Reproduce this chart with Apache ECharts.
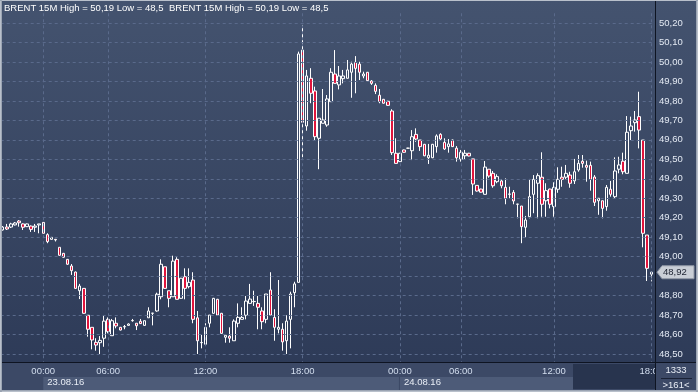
<!DOCTYPE html>
<html><head><meta charset="utf-8">
<script src="https://cdn.jsdelivr.net/npm/echarts@6/dist/echarts.min.js"></script>
<style>html,body{margin:0;padding:0;background:#2f3c5a;}#c{width:698px;height:392px;}</style>
</head><body><div id="c"></div>
<script>
const titleText = 'BRENT 15M High = 50,19 Low = 48,5';
const tickIndex = [10, 26, 50, 74, 98, 113, 136, 160];
const tickLabels = ['00:00', '06:00', '12:00', '18:00', '00:00', '06:00', '12:00', '18:00'];
const dateIndex = [10, 98];
const dateLabels = ['23.08.16', '24.08.16'];
const yTicks = [48.5, 48.6, 48.7, 48.8, 48.9, 49.0, 49.1, 49.2, 49.3, 49.4, 49.5, 49.6, 49.7, 49.8, 49.9, 50.0, 50.1, 50.2];
const lastPrice = 48.92;
const barsTotal = '1333';
const barsVisible = '>161<';

const opens = [
49.137,49.152,49.152,49.163,49.183,49.168,49.154,49.157,49.151,49.163,
49.176,49.113,49.089,49.089,49.048,49.017,48.986,48.952,48.921,48.825,
48.837,48.699,48.637,48.560,48.558,48.581,48.678,48.594,48.658,48.637,
48.639,48.647,48.671,48.658,48.668,48.647,48.686,48.709,48.721,48.794,
48.948,48.825,48.794,48.986,48.786,48.897,48.846,48.880,48.686,48.558,
48.550,48.658,48.709,48.781,48.709,48.586,48.592,48.568,48.658,48.678,
48.699,48.760,48.769,48.760,48.721,48.678,48.829,48.688,48.627,48.627,
48.568,48.678,48.815,48.868,50.061,49.671,49.916,49.851,49.608,49.685,
49.676,49.796,49.938,49.882,49.914,49.916,49.947,49.998,49.989,49.928,
49.947,49.902,49.880,49.829,49.808,49.798,49.748,49.531,49.488,49.548,
49.557,49.544,49.628,49.599,49.577,49.508,49.508,49.565,49.628,49.587,
49.565,49.599,49.557,49.500,49.518,49.531,49.502,49.366,49.347,49.320,
49.449,49.428,49.385,49.389,49.356,49.322,49.330,49.269,49.260,49.151,
49.205,49.320,49.377,49.408,49.287,49.347,49.257,49.346,49.408,49.408,
49.419,49.389,49.445,49.490,49.469,49.469,49.409,49.287,49.287,49.257,
49.346,49.308,49.449,49.490,49.428,49.647,49.688,49.719,49.599,49.111,
48.910];
const closes = [
49.152,49.142,49.168,49.173,49.174,49.151,49.168,49.140,49.157,49.168,
49.120,49.077,49.099,49.086,49.007,48.997,48.961,48.928,48.837,48.849,
48.709,48.627,48.572,48.546,48.570,48.669,48.615,48.671,48.644,48.623,
48.641,48.654,48.672,48.645,48.656,48.671,48.721,48.710,48.807,48.961,
48.837,48.786,48.977,48.781,48.889,48.837,48.868,48.678,48.568,48.559,
48.637,48.700,48.786,48.700,48.606,48.596,48.581,48.669,48.688,48.688,
48.772,48.782,48.770,48.740,48.666,48.808,48.700,48.637,48.637,48.562,
48.669,48.808,48.860,50.041,49.690,49.928,49.839,49.616,49.711,49.702,
49.810,49.947,49.890,49.928,49.928,49.959,49.989,49.967,49.947,49.938,
49.904,49.890,49.849,49.796,49.788,49.777,49.534,49.479,49.531,49.536,
49.557,49.616,49.604,49.565,49.518,49.521,49.577,49.620,49.604,49.553,
49.579,49.565,49.508,49.536,49.531,49.517,49.373,49.337,49.331,49.460,
49.414,49.364,49.411,49.364,49.300,49.320,49.286,49.270,49.154,49.188,
49.308,49.397,49.416,49.269,49.339,49.269,49.356,49.397,49.397,49.428,
49.377,49.436,49.479,49.479,49.459,49.397,49.279,49.300,49.248,49.356,
49.320,49.440,49.471,49.436,49.639,49.671,49.702,49.650,49.120,48.940,
48.920];
const lows = [
49.134,49.137,49.147,49.160,49.154,49.137,49.152,49.127,49.127,49.120,
49.120,49.069,49.088,49.078,49.005,48.995,48.958,48.906,48.835,48.782,
48.707,48.589,48.524,48.517,48.500,48.537,48.606,48.594,48.632,48.621,
48.627,48.646,48.666,48.623,48.654,48.645,48.686,48.647,48.717,48.781,
48.835,48.740,48.794,48.781,48.784,48.781,48.837,48.658,48.500,48.529,
48.550,48.637,48.707,48.698,48.604,48.558,48.558,48.568,48.637,48.678,
48.678,48.760,48.747,48.627,48.627,48.658,48.700,48.568,48.606,48.517,
48.500,48.529,48.740,48.868,49.510,49.647,49.788,49.596,49.449,49.685,
49.667,49.796,49.890,49.859,49.890,49.916,49.816,49.839,49.907,49.916,
49.902,49.882,49.835,49.788,49.786,49.775,49.522,49.479,49.486,49.534,
49.555,49.496,49.590,49.543,49.516,49.476,49.506,49.534,49.599,49.548,
49.534,49.563,49.488,49.488,49.500,49.515,49.317,49.334,49.329,49.320,
49.405,49.354,49.377,49.351,49.269,49.300,49.269,49.197,49.069,49.099,
49.197,49.223,49.197,49.205,49.205,49.248,49.205,49.328,49.359,49.397,
49.354,49.373,49.436,49.457,49.385,49.339,49.260,49.215,49.197,49.236,
49.308,49.298,49.428,49.423,49.428,49.599,49.642,49.556,49.048,48.875,
48.873];
const highs = [
49.157,49.168,49.174,49.178,49.188,49.171,49.170,49.160,49.168,49.168,
49.176,49.120,49.101,49.090,49.048,49.019,48.988,48.962,48.923,48.860,
48.839,48.699,48.637,48.581,48.592,48.699,48.688,48.680,48.688,48.639,
48.649,48.657,48.680,48.658,48.680,48.672,48.740,48.711,48.815,48.986,
48.948,48.825,49.005,48.997,48.891,48.940,48.940,48.920,48.721,48.598,
48.658,48.700,48.788,48.783,48.711,48.596,48.637,48.678,48.760,48.740,
48.798,48.860,48.825,48.798,48.740,48.808,48.920,48.730,48.880,48.658,
48.699,48.820,48.871,50.053,50.190,49.959,49.968,49.873,49.711,49.861,
49.830,49.968,50.061,49.979,49.959,50.010,50.001,50.030,50.001,49.950,
49.948,49.907,49.890,49.861,49.810,49.800,49.757,49.608,49.533,49.550,
49.559,49.650,49.659,49.599,49.579,49.579,49.579,49.628,49.634,49.608,
49.604,49.601,49.568,49.548,49.548,49.533,49.502,49.366,49.349,49.491,
49.449,49.440,49.423,49.397,49.402,49.359,49.342,49.271,49.260,49.209,
49.399,49.419,49.428,49.536,49.377,49.349,49.382,49.459,49.462,49.471,
49.436,49.502,49.522,49.522,49.493,49.488,49.419,49.300,49.287,49.368,
49.389,49.510,49.513,49.534,49.722,49.719,49.748,49.847,49.599,49.111,
48.925];

const FONT = 'Liberation Sans';
const categories = opens.map((_, i) => i);
const ohlc = opens.map((o, i) => [o, closes[i], lows[i], highs[i]]);
const fmt = v => v.toFixed(2).replace('.', ',');
const dash = { type: [3, 3], color: '#5a6a8b', width: 1 };

const chart = echarts.init(document.getElementById('c'), null, { renderer: 'canvas', width: 698, height: 392 });

const titleStyle = { color: '#ffffff', fontSize: 9.5, fontWeight: 'normal', fontFamily: FONT };
const option = {
  animation: false,
  backgroundColor: new echarts.graphic.LinearGradient(0, 0, 0, 1, [
    { offset: 0, color: '#44536f' }, { offset: 1, color: '#2c3956' }]),
  title: [
    { text: titleText, left: 4, top: 3, padding: 0, textStyle: titleStyle },
    { text: titleText, left: 169, top: 3, padding: 0, textStyle: titleStyle }
  ],
  grid: { left: 0.7, right: 44.7, top: 3.53, bottom: 18.53 },
  xAxis: [
    { type: 'category', data: categories, boundaryGap: true, z: 50,
      axisLine: { show: false }, axisTick: { show: false }, splitLine: { show: false },
      axisLabel: { interval: (i) => tickIndex.includes(i), margin: -7.5, fontSize: 9.5, fontFamily: FONT,
        formatter: (v, i) => { const k = tickIndex.indexOf(i); return k >= 0 ? tickLabels[k] : ''; },
        color: (v, i) => (i === tickIndex[tickIndex.length - 1] ? '#66738c' : '#d3deef') } },
    { type: 'category', data: categories, boundaryGap: true, position: 'bottom', z: 50,
      axisLine: { show: false }, axisTick: { show: false }, splitLine: { show: false },
      axisLabel: { interval: (i) => dateIndex.includes(i), margin: 4, fontSize: 9.5, fontFamily: FONT,
        align: 'left', padding: [0, 0, 0, 4], color: '#e9eef6',
        formatter: (v, i) => { const k = dateIndex.indexOf(i); return k >= 0 ? dateLabels[k] : ''; } } }
  ],
  yAxis: { type: 'value', position: 'right', min: 48.4, max: 50.3, interval: 0.1, offset: 1.7, scale: true,
    axisLine: { show: false }, axisTick: { show: false }, splitLine: { show: false },
    axisLabel: { showMinLabel: false, showMaxLabel: false, margin: 4, fontSize: 9.5, fontFamily: FONT, color: '#e3e9f3',
      formatter: v => (Math.abs(v - lastPrice) < 0.05 ? '' : fmt(v)) } },
  series: [
    { type: 'line', data: [], z: 1, silent: true,
      markLine: { silent: true, symbol: ['none', 'none'], label: { show: false }, lineStyle: dash, animation: false,
        data: [
          ...yTicks.map(v => ({ yAxis: v })),
          ...tickIndex.map(i => [{ coord: [i, 50.25] }, { coord: [i, 48.42] }])
        ] } },
    { type: 'candlestick', data: ohlc, z: 3, barWidth: 3,
      itemStyle: { color: 'rgba(0,0,0,0)', color0: '#e0143c', borderColor: '#ffffff', borderColor0: '#ffffff', borderWidth: 1 } }
  ]
};
chart.setOption(option);

function px(i) { return chart.convertToPixel({ xAxisIndex: 0 }, i); }
const py = chart.convertToPixel({ yAxisIndex: 0 }, lastPrice);
const xd1 = px(dateIndex[0]), xd2 = px(dateIndex[1]);
const g = [];
g.push({ type: 'rect', z: 10, shape: { x: 0, y: 363, width: 698, height: 29 }, style: { fill: '#3c4966' } });
g.push({ type: 'rect', z: 11, shape: { x: xd1, y: 377, width: xd2 - xd1, height: 13 }, style: { fill: '#4d5b78' } });
g.push({ type: 'rect', z: 11, shape: { x: xd2, y: 377, width: 573 - xd2, height: 13 }, style: { fill: '#4d5b78' } });
g.push({ type: 'line', z: 12, shape: { x1: xd2 - 0.5, y1: 377, x2: xd2 - 0.5, y2: 390 }, style: { stroke: '#3c4966', lineWidth: 1 } });
g.push({ type: 'rect', z: 12, shape: { x: 573, y: 364, width: 82, height: 25 }, style: { fill: '#28344e' } });
g.push({ type: 'line', z: 60, shape: { x1: 0, y1: 362.5, x2: 698, y2: 362.5 }, style: { stroke: '#0e1422', lineWidth: 1 } });
g.push({ type: 'rect', z: 60, shape: { x: 656, y: 363, width: 42, height: 29 }, style: { fill: '#3c4966' } });
g.push({ type: 'text', z: 61, style: { text: barsTotal, x: 676, y: 370, align: 'center', verticalAlign: 'middle', fill: '#e9eef6', font: '9.5px ' + FONT } });
g.push({ type: 'line', z: 61, shape: { x1: 661, y1: 378.5, x2: 692, y2: 378.5 }, style: { stroke: '#1a2236', lineWidth: 1 } });
g.push({ type: 'text', z: 61, style: { text: barsVisible, x: 676, y: 385, align: 'center', verticalAlign: 'middle', fill: '#e9eef6', font: '9.5px ' + FONT } });
g.push({ type: 'line', z: 62, shape: { x1: 655.5, y1: 0, x2: 655.5, y2: 390 }, style: { stroke: '#0e1422', lineWidth: 1 } });
g.push({ type: 'polygon', z: 63, shape: { points: [[657, py], [662, py - 6.5], [694, py - 6.5], [694, py + 6.5], [662, py + 6.5]] },
  style: { fill: '#c9ced6', stroke: '#8e96a4', lineWidth: 1 } });
g.push({ type: 'text', z: 64, style: { text: fmt(lastPrice), x: 663, y: py, verticalAlign: 'middle', fill: '#1b2130', font: '9.5px ' + FONT } });
g.push({ type: 'rect', z: 70, shape: { x: 0.5, y: 0.5, width: 697, height: 391 }, style: { fill: 'none', stroke: '#b9c0cb', lineWidth: 1 } });
g.push({ type: 'line', z: 70, shape: { x1: 1.5, y1: 0, x2: 1.5, y2: 392 }, style: { stroke: '#9ca5b3', lineWidth: 1 } });
g.push({ type: 'line', z: 70, shape: { x1: 0, y1: 390.5, x2: 698, y2: 390.5 }, style: { stroke: '#9ca5b3', lineWidth: 1 } });
g.push({ type: 'line', z: 70, shape: { x1: 696.5, y1: 0, x2: 696.5, y2: 392 }, style: { stroke: '#9ca5b3', lineWidth: 1 } });
chart.setOption({ graphic: { elements: g } });
</script>
</body></html>
